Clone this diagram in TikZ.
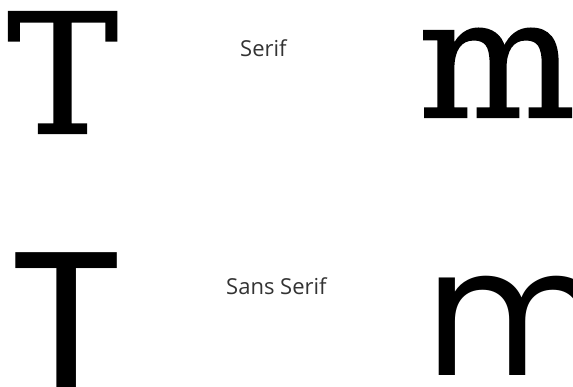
\documentclass[tikz,border=0pt]{standalone}
\usepackage{fontspec}
\setmainfont{DejaVu Serif}
\newfontfamily\serifbig[FakeBold=1.2]{DejaVu Serif}
\newfontfamily\sansbig{Poppins}
\newfontfamily\labelfont{Open Sans}
\tikzset{
    bigserif/.style={inner sep=0pt, anchor=base west, font=\serifbig\fontsize{166}{166}\selectfont},
    bigsans/.style={inner sep=0pt, anchor=base west, font=\sansbig\fontsize{#1}{#1}\selectfont},
    caption/.style={inner sep=0pt, anchor=base west, font=\labelfont\fontsize{22}{22}\selectfont, text=black!80}
}

\begin{document}
\begin{tikzpicture}[x=1pt, y=-1pt]
    \useasboundingbox (0,0) rectangle (573,386);
    \clip (0,0) rectangle (573,386);
    % Serif row
    \node[bigserif] (serifT) at (7,133) {T};
    \node[caption] (serifLabel) at (240,56) {Serif};
    \node[bigserif] (serifM) at (418,117) {m};
    % Sans serif row
    \node[bigsans=215] (sansT) at (8,402) {T};
    \node[caption] (sansLabel) at (226,294) {Sans Serif};
    \node[bigsans=178] (sansM) at (425,375) {m};
\end{tikzpicture}
\end{document}
